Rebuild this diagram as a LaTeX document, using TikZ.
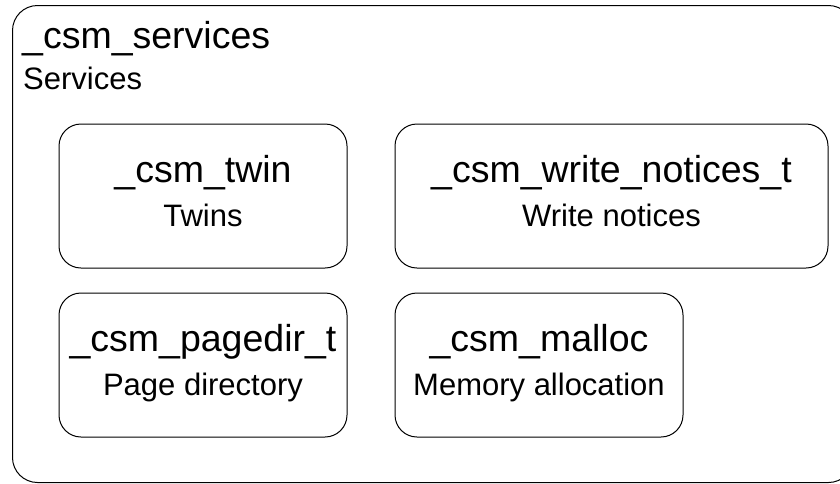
\documentclass[tikz,border=0pt]{standalone}
\usepackage{fontspec}
\setmainfont{Liberation Sans}
\begin{document}
\begin{tikzpicture}[x=1pt,y=-1pt,
  box/.style={draw, line width=1pt, rounded corners=22pt, inner sep=0pt, minimum height=144pt},
  head/.style={anchor=base, font=\fontsize{37.5}{40}\selectfont, inner sep=0pt},
  sub/.style={anchor=base, font=\fontsize{31}{34}\selectfont, inner sep=0pt}]
\useasboundingbox (0,0) rectangle (840,483);
\node[draw, line width=1pt, rounded corners=25pt, inner sep=0pt, minimum width=841pt, minimum height=477pt, anchor=north west] (services) at (12,5) {};
\node[head, anchor=base west] (servicesname) at (22,48) {\_csm\_services};
\node[sub, anchor=base west] (serviceslabel) at (23,89) {Services};

\node[box, minimum width=288pt] (twin) at (203,196) {};
\node[box, minimum width=433pt] (wn) at (611.5,196) {};
\node[box, minimum width=288pt] (pagedir) at (203,365) {};
\node[box, minimum width=288pt] (malloc) at (539,365) {};

\node[head] (twinh) at ([yshift=-59pt]twin.north) {\_csm\_twin};
\node[sub] (twins) at ([yshift=-103pt]twin.north) {Twins};
\node[head] (wnh) at ([yshift=-59pt]wn.north) {\_csm\_write\_notices\_t};
\node[sub] (wns) at ([yshift=-103pt]wn.north) {Write notices};
\node[head] (pdh) at ([yshift=-59pt]pagedir.north) {\_csm\_pagedir\_t};
\node[sub] (pds) at ([yshift=-103pt]pagedir.north) {Page directory};
\node[head] (mh) at ([yshift=-59pt]malloc.north) {\_csm\_malloc};
\node[sub] (ms) at ([yshift=-103pt]malloc.north) {Memory allocation};
\end{tikzpicture}
\end{document}
